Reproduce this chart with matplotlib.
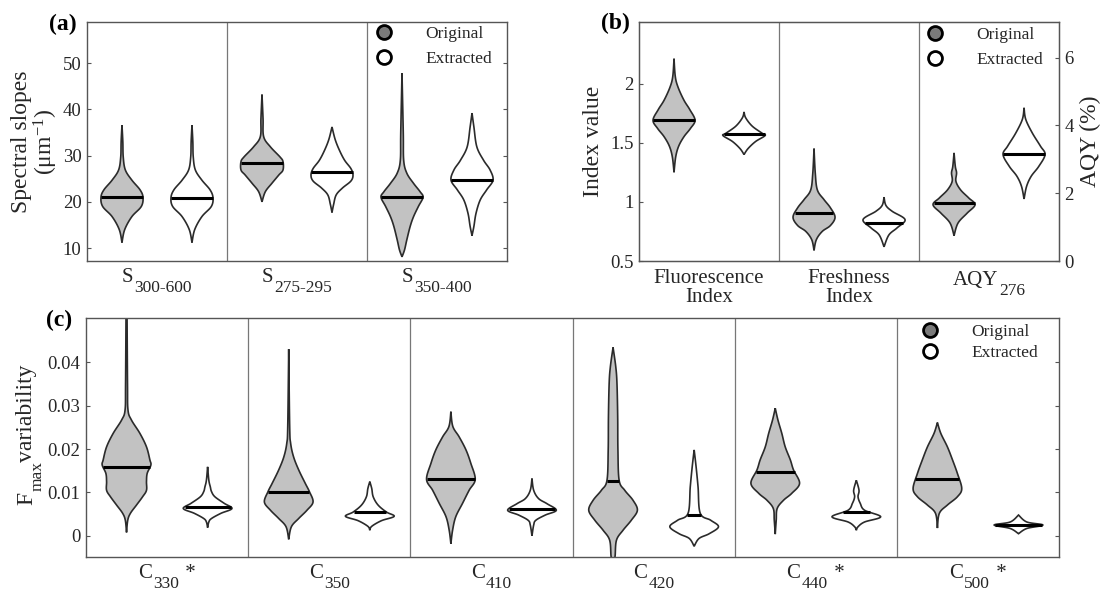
import numpy as np
import matplotlib
matplotlib.use('Agg')
import matplotlib.pyplot as plt
from matplotlib.lines import Line2D
from matplotlib.offsetbox import TextArea, HPacker, VPacker, DrawingArea, AnnotationBbox

plt.rcParams['font.family'] = ['Liberation Serif', 'DejaVu Serif']
plt.rcParams['mathtext.fontset'] = 'custom'
plt.rcParams['mathtext.rm'] = 'Liberation Serif'
plt.rcParams['mathtext.it'] = 'Liberation Serif:italic'
plt.rcParams['text.color'] = '#262626'
plt.rcParams['axes.labelcolor'] = '#262626'

# violin outlines: (value, relative half width)
# panel (a) spectral slopes (um^-1)
s300_600_orig = [(11.2, 0), (14.0, .13), (16.8, .47), (19.0, .92), (21.0, 1.0), (22.6, .86),
                 (24.7, .47), (26.9, .16), (29.7, .06), (33.0, .04), (36.6, 0)]
s300_600_extr = [(11.2, 0), (14.0, .13), (16.8, .47), (19.0, .92), (20.9, 1.0), (22.6, .86),
                 (24.7, .47), (26.9, .16), (29.7, .06), (33.0, .04), (36.6, 0)]
s275_295_orig = [(20.0, 0), (22.2, .16), (24.0, .47), (25.8, .8), (26.9, 1.0), (28.7, 1.0),
                 (29.7, .86), (31.9, .4), (34.1, .08), (38.0, .05), (43.2, 0)]
s275_295_extr = [(17.7, 0), (19.5, .08), (21.5, .2), (23.0, .5), (24.5, .9), (25.8, 1.0),
                 (27.2, .9), (29.0, .6), (31.2, .35), (33.5, .15), (36.2, 0)]
s350_400_orig = [(8.1, 0), (9.6, .12), (11.8, .23), (14.7, .39), (16.8, .55), (19.0, .78),
                 (21.0, 1.0), (22.2, .86), (24.0, .55), (26.2, .23), (29.0, .08), (35.0, .06),
                 (47.8, 0)]
s350_400_extr = [(12.7, 0), (14.7, .09), (17.5, .19), (20.4, .39), (22.6, .7), (24.7, 1.0),
                 (26.9, .86), (29.0, .55), (31.9, .23), (36.2, .09), (39.2, 0)]
slope_names = ['S', 'S', 'S']
slope_subs = ['300-600', '275-295', '350-400']
slope_med_orig = [21.0, 28.5, 21.0]
slope_med_extr = [20.9, 26.4, 24.7]

# panel (b) indices and AQY (%)
fi_orig = [(1.25, 0), (1.38, .08), (1.47, .22), (1.55, .47), (1.62, .78), (1.69, 1.0),
           (1.78, .75), (1.86, .47), (1.97, .19), (2.06, .06), (2.21, 0)]
fi_extr = [(1.40, 0), (1.45, .19), (1.51, .55), (1.56, 1.0), (1.58, .86), (1.64, .39),
           (1.71, .08), (1.76, 0)]
fresh_orig = [(0.59, 0), (0.68, .11), (0.75, .39), (0.80, .78), (0.87, 1.0), (0.95, .78),
              (1.02, .47), (1.10, .16), (1.24, .06), (1.45, 0)]
fresh_extr = [(0.62, 0), (0.72, .23), (0.78, .62), (0.85, 1.0), (0.92, .39), (0.97, .09),
              (1.04, 0)]
aqy_orig = [(0.75, 0), (1.12, .19), (1.41, .62), (1.66, 1.0), (1.86, .7), (2.10, .31),
            (2.35, .09), (2.60, .12), (2.79, .06), (3.19, 0)]
aqy_extr = [(1.83, 0), (2.20, .12), (2.50, .34), (2.79, .7), (3.14, 1.0), (3.39, .78),
            (3.78, .39), (4.18, .08), (4.52, 0)]
index_labels = ['Fluorescence\nIndex', 'Freshness\nIndex']
aqy_name = ('AQY', '276')
index_med_orig = [1.69, 0.91]
index_med_extr = [1.57, 0.82]
aqy_med = [1.71, 3.16]

# panel (c) Fmax variability (x 1e-3)
c330_orig = [(0.8, 0), (3.6, .05), (5.2, .16), (7.1, .41), (9.0, .66), (10.5, .82), (12.5, .82),
             (14.4, .85), (16.3, 1.0), (17.5, .96), (20.5, .82), (23.6, .55), (26.7, .2),
             (29.0, .06), (35.0, .04), (52.0, .02)]
c330_extr = [(1.9, 0), (3.2, .05), (4.0, .16), (5.2, .55), (6.3, 1.0), (7.5, .68), (9.0, .3),
             (10.2, .16), (11.3, .11), (12.8, .05), (15.9, 0)]
c350_orig = [(-0.8, 0), (2.1, .11), (4.0, .41), (5.9, .75), (7.8, 1.0), (10.2, .85), (12.1, .68),
             (15.2, .41), (18.2, .2), (21.3, .08), (25.2, .04), (43.0, 0)]
c350_extr = [(1.3, 0), (2.2, .08), (3.5, .48), (4.5, 1.0), (5.5, .68), (7.1, .34), (9.0, .14),
             (10.9, .08), (12.5, 0)]
c410_orig = [(-1.8, 0), (1.3, .07), (4.4, .2), (7.5, .48), (10.5, .75), (13.0, 1.0), (16.7, .82),
             (19.8, .62), (22.8, .34), (25.2, .08), (28.6, 0)]
c410_extr = [(0.0, 0), (2.5, .07), (3.6, .16), (4.8, .55), (5.9, 1.0), (7.4, .62), (8.6, .27),
             (10.5, .07), (13.2, 0)]
c420_orig = [(-6.0, 0), (-4.8, .08), (-1.0, .14), (1.3, .41), (3.6, .75), (5.9, 1.0), (8.2, .82),
             (10.5, .48), (12.8, .25), (19.8, .2), (27.5, .19), (35.2, .16), (39.0, .11), (43.4, 0)]
c420_extr = [(-2.4, 0), (-0.6, .2), (0.5, .62), (2.1, 1.0), (3.6, .68), (5.2, .25), (11.3, .16),
             (15.9, .08), (19.8, 0)]
c440_orig = [(0.4, 0), (3.6, .04), (6.3, .08), (8.2, .34), (9.8, .68), (12.1, 1.0), (15.2, .75),
             (17.5, .62), (20.5, .41), (23.6, .27), (26.7, .11), (29.4, 0)]
c440_extr = [(1.3, 0), (2.1, .07), (3.2, .34), (4.4, 1.0), (5.9, .34), (7.5, .16), (9.0, .07),
             (10.5, .11), (12.8, 0)]
c500_orig = [(1.8, 0), (5.2, .08), (7.1, .41), (9.0, .82), (10.9, 1.0), (14.4, .82), (17.5, .62),
             (20.5, .41), (23.6, .14), (26.1, 0)]
c500_extr = [(0.5, 0), (1.7, .34), (2.5, 1.0), (3.2, .34), (4.8, 0)]
comp_subs = ['330', '350', '410', '420', '440', '500']
comp_star = [True, False, False, False, True, True]
comp_med_orig = [15.8, 10.2, 13.1, 12.7, 14.6, 13.0]
comp_med_extr = [6.7, 5.6, 6.3, 4.8, 5.4, 2.4]

ORIG = '#c2c2c2'
EXTR = 'white'
EDGE = '#2b2b2b'
TXT = '#262626'
HALF = 0.30
W, H = 1101, 592


def outline(profile, n=12):
    # catmull-rom through the read points, just to round the edges
    p = np.array(profile, float)
    p = np.vstack([p[0], p, p[-1]])
    segs = []
    t = np.linspace(0, 1, n, endpoint=False)[:, None]
    for i in range(1, len(p) - 2):
        p0, p1, p2, p3 = p[i - 1], p[i], p[i + 1], p[i + 2]
        seg = 0.5 * (2 * p1 + (-p0 + p2) * t + (2 * p0 - 5 * p1 + 4 * p2 - p3) * t ** 2
                     + (-p0 + 3 * p1 - 3 * p2 + p3) * t ** 3)
        segs.append(seg)
    segs.append(p[-2][None])
    out = np.vstack(segs)
    out[:, 1] = np.clip(out[:, 1], 0, None)
    return out[:, 0], out[:, 1]


def violin(ax, pos, profile, med, color, scale=1.0):
    v, w = outline(profile)
    v = v * scale
    hw = w * HALF
    xs = np.r_[pos - hw, (pos + hw)[::-1]]
    ys = np.r_[v, v[::-1]]
    ax.fill(xs, ys, facecolor=color, edgecolor=EDGE, lw=1.2, zorder=2)
    order = np.argsort(v)
    hm = np.interp(med * scale, v[order], hw[order])
    ax.plot([pos - hm, pos + hm], [med * scale, med * scale], color='black', lw=2.2,
            solid_capstyle='butt', zorder=3)


def sub_label(ax, x, main, sub, tail='', size=15, subsize=12.5, drop=9, off=-5):
    parts = [TextArea(main, textprops=dict(size=size, color=TXT)),
             VPacker(children=[DrawingArea(1, drop),
                               TextArea(sub, textprops=dict(size=subsize, color=TXT))],
                     pad=0, sep=0)]
    if tail:
        parts.append(TextArea(tail, textprops=dict(size=size, color=TXT)))
    box = HPacker(children=parts, align='top', pad=0, sep=1)
    ab = AnnotationBbox(box, (x, 0), xycoords=('data', 'axes fraction'), xybox=(0, off),
                        boxcoords='offset points', box_alignment=(0.5, 1), frameon=False,
                        pad=0, annotation_clip=False)
    ax.add_artist(ab)


def frame(ax, nsec):
    for s in ax.spines.values():
        s.set_color('#555555')
        s.set_linewidth(1.0)
    for k in range(1, nsec):
        ax.axvline(2 * k, color='#777777', lw=0.9, zorder=1)
    ax.set_xlim(0, 2 * nsec)
    ax.set_xticks(np.arange(1, 2 * nsec, 2))
    ax.tick_params(axis='both', direction='in', length=3, color='#555555',
                   labelsize=13.5, labelcolor=TXT, pad=4)
    ax.tick_params(axis='x', length=0, labelsize=15, pad=6)


def legend(ax, x, y, spacing):
    handles = [Line2D([], [], ls='none', marker='o', ms=10, mfc='#7a7a7a', mec='black', mew=2),
               Line2D([], [], ls='none', marker='o', ms=10, mfc='white', mec='black', mew=2)]
    ax.legend(handles, ['Original', 'Extracted'], loc='upper left', bbox_to_anchor=(x, y),
              frameon=False, fontsize=12.5, handlelength=2.0, handletextpad=1.4,
              borderpad=0, borderaxespad=0, labelspacing=spacing)


def vtext(px, py, s, size):
    # rotated piece of a y label, anchored at its baseline start (pixel coords)
    fig.text(px / W, 1 - py / H, s, rotation=90, rotation_mode='anchor', ha='left',
             va='baseline', fontsize=size, color=TXT)


fig = plt.figure(figsize=(11.01, 5.92), dpi=100)
ax_a = fig.add_axes([0.0790, 0.5591, 0.3815, 0.4037])
ax_b = fig.add_axes([0.5804, 0.5591, 0.3815, 0.4037])
ax_c = fig.add_axes([0.0781, 0.0596, 0.8838, 0.4027])

# (a)
frame(ax_a, 3)
for i, (po, pe) in enumerate([(s300_600_orig, s300_600_extr), (s275_295_orig, s275_295_extr),
                              (s350_400_orig, s350_400_extr)]):
    violin(ax_a, 2 * i + 0.5, po, slope_med_orig[i], ORIG)
    violin(ax_a, 2 * i + 1.5, pe, slope_med_extr[i], EXTR)
    sub_label(ax_a, 2 * i + 1, slope_names[i], slope_subs[i].replace('-', '\u2010'))
ax_a.set_ylim(7.2, 58.9)
ax_a.set_yticks([10, 20, 30, 40, 50])
ax_a.set_xticklabels([])
ax_a.tick_params(axis='y', right=True)
ax_a.set_ylabel('Spectral slopes\n(\u03bcm$^{\\mathregular{-1}}$)', fontsize=17, labelpad=2,
                linespacing=1.0)
legend(ax_a, 0.666, 0.982, 0.5)
fig.text(0.057, 0.958, '(a)', fontsize=17, fontweight='bold', ha='center', va='center',
         color='black')

# (b)
frame(ax_b, 3)
for i, (po, pe) in enumerate([(fi_orig, fi_extr), (fresh_orig, fresh_extr)]):
    violin(ax_b, 2 * i + 0.5, po, index_med_orig[i], ORIG)
    violin(ax_b, 2 * i + 1.5, pe, index_med_extr[i], EXTR)
ax_b.set_ylim(0.5, 2.52)
ax_b.set_yticks([0.5, 1, 1.5, 2])
ax_b.set_yticklabels(['0.5', '1', '1.5', '2'])
ax_b.set_xticklabels(index_labels + [''], linespacing=1.0)
ax_b.set_ylabel('Index value', fontsize=17, labelpad=4)
sub_label(ax_b, 5, aqy_name[0], aqy_name[1], off=-7)
ax_r = ax_b.twinx()
ax_r.set_ylim(0, 7.05)
ax_r.set_xlim(0, 6)
violin(ax_r, 4.5, aqy_orig, aqy_med[0], ORIG)
violin(ax_r, 5.5, aqy_extr, aqy_med[1], EXTR)
ax_r.set_yticks([0, 2, 4, 6])
for s in ax_r.spines.values():
    s.set_color('#555555')
ax_r.tick_params(axis='y', direction='in', length=3, color='#555555', labelsize=13.5,
                 labelcolor=TXT, pad=4)
ax_r.set_ylabel('AQY (%)', fontsize=17, labelpad=4)
legend(ax_r, 0.663, 0.978, 0.5)
fig.text(0.559, 0.960, '(b)', fontsize=17, fontweight='bold', ha='center', va='center',
         color='black')

# (c)
frame(ax_c, 6)
pairs_c = [(c330_orig, c330_extr), (c350_orig, c350_extr), (c410_orig, c410_extr),
           (c420_orig, c420_extr), (c440_orig, c440_extr), (c500_orig, c500_extr)]
for i, (po, pe) in enumerate(pairs_c):
    violin(ax_c, 2 * i + 0.5, po, comp_med_orig[i], ORIG, scale=1e-3)
    violin(ax_c, 2 * i + 1.5, pe, comp_med_extr[i], EXTR, scale=1e-3)
    sub_label(ax_c, 2 * i + 1, 'C', comp_subs[i], tail=' *' if comp_star[i] else '')
ax_c.set_ylim(-0.0048, 0.0501)
ax_c.set_yticks([0, 0.01, 0.02, 0.03, 0.04])
ax_c.set_yticklabels(['0', '0.01', '0.02', '0.03', '0.04'])
ax_c.set_xticklabels([])
ax_c.tick_params(axis='y', right=True)
# F_max variability, pieces placed by hand so the subscript keeps its size
vtext(32, 505, 'F', 17)
vtext(42, 491, 'max', 12.5)
vtext(32, 462, 'variability', 17)
legend(ax_c, 0.8495, 0.975, 0.26)
fig.text(0.054, 0.459, '(c)', fontsize=17, fontweight='bold', ha='center', va='center',
         color='black')

fig.savefig('out.png', dpi=100)
